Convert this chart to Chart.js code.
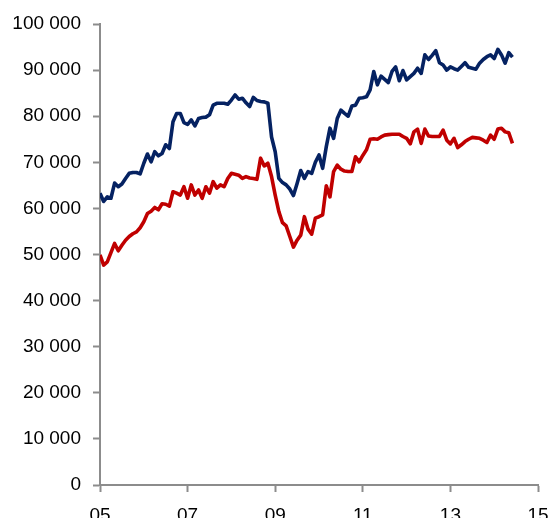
<!DOCTYPE html>
<html>
<head>
<meta charset="utf-8">
<script src="https://cdn.jsdelivr.net/npm/chart.js@4.4.1/dist/chart.umd.min.js"></script>
<style>
    html, body { margin: 0; padding: 0; background: #fff; }
    #wrap { width: 551px; height: 518px; }
</style>
</head>
<body>
<div id="wrap"><canvas id="chart" width="551" height="518"></canvas></div>
<script>
// monthly series, Jan 2005 onwards
const blueSeries = [
    63300, 61500, 62500, 62200, 65500, 64700, 65300, 66500, 67600, 67800,
    67800, 67500, 69800, 71800, 70100, 72300, 71400, 71900, 73800, 73000,
    78800, 80600, 80600, 78600, 78200, 79200, 77900, 79500, 79700, 79800,
    80300, 82400, 82800, 82800, 82800, 82600, 83500, 84600, 83700, 83900,
    82900, 82100, 84100, 83400, 83200, 83100, 82800, 75500, 72300, 66500,
    65600, 65100, 64200, 62800, 65400, 68200, 66500, 68000, 67600, 70000,
    71600, 68700, 73400, 77400, 75200, 79500, 81300, 80600, 80000, 82200,
    82400, 83900, 84000, 84200, 85700, 89700, 86800, 88700, 88000, 87300,
    89700, 90700, 87700, 89900, 87900, 88600, 89300, 90400, 89300, 93300,
    92300, 93200, 94200, 91600, 91100, 90000, 90700, 90300, 90000, 90800,
    91600, 90600, 90400, 90200, 91500, 92300, 92900, 93300, 92500, 94500,
    93300, 91500, 93800, 92800
];

const redSeries = [
    49900, 47700, 48400, 50400, 52400, 50800, 52000, 53100, 53900, 54500,
    54900, 55800, 57100, 58900, 59400, 60200, 59700, 61000, 60900, 60500,
    63600, 63300, 62900, 64700, 62200, 65100, 62900, 64000, 62200, 64700,
    63300, 65800, 64400, 65100, 64700, 66500, 67600, 67400, 67200, 66500,
    66900, 66600, 66500, 66300, 70900, 69200, 69800, 66900, 62900, 59300,
    56900, 56200, 53900, 51600, 53100, 54200, 58200, 55500, 54400, 57900,
    58200, 58600, 64900, 62500, 68000, 69400, 68500, 68100, 68000, 68000,
    71200, 70100, 71500, 72700, 75000, 75100, 75000, 75500, 75900, 76000,
    76100, 76100, 76100, 75600, 75200, 74000, 76600, 77200, 74100, 77200,
    75700, 75600, 75600, 75600, 77000, 74800, 74000, 75200, 73200, 73800,
    74500, 75000, 75400, 75300, 75200, 74800, 74300, 75900, 75000, 77200,
    77400, 76600, 76400, 74100
];

const yearTicks = [0, 24, 48, 72, 96, 120];
const yearLabels = ['05', '07', '09', '11', '13', '15'];

const toPoints = (values) => values.map((v, i) => ({ x: i, y: v }));

const formatThousands = (value) =>
    String(value).replace(/\B(?=(\d{3})+(?!\d))/g, ' ');

const AXIS_GREY = '#8c8c8c';
const labelFont = { family: "'Liberation Sans', Arial, sans-serif", size: 19 };

new Chart(document.getElementById('chart').getContext('2d'), {
    type: 'line',
    data: {
        datasets: [
            {
                data: toPoints(blueSeries),
                borderColor: '#052262',
                borderWidth: 3.6,
                pointRadius: 0,
                tension: 0,
                borderJoinStyle: 'round'
            },
            {
                data: toPoints(redSeries),
                borderColor: '#c00000',
                borderWidth: 3.6,
                pointRadius: 0,
                tension: 0,
                borderJoinStyle: 'round'
            }
        ]
    },
    options: {
        responsive: false,
        animation: false,
        events: [],
        layout: { padding: { top: 24, right: 13, left: 0, bottom: 0 } },
        plugins: {
            legend: { display: false },
            tooltip: { enabled: false }
        },
        scales: {
            x: {
                type: 'linear',
                min: 0,
                max: 120,
                afterBuildTicks: (scale) => {
                    scale.ticks = yearTicks.map(v => ({ value: v }));
                },
                afterFit: (scale) => {
                    scale.height = 33;
                    scale.paddingLeft = 0;
                    scale.paddingRight = 0;
                },
                border: { color: AXIS_GREY, width: 2 },
                grid: {
                    drawOnChartArea: false,
                    drawTicks: true,
                    tickLength: 7,
                    tickWidth: 2,
                    tickColor: AXIS_GREY
                },
                ticks: {
                    color: '#000',
                    font: labelFont,
                    padding: 12,
                    maxRotation: 0,
                    autoSkip: false,
                    callback: (value) => yearLabels[yearTicks.indexOf(value)] ?? ''
                }
            },
            y: {
                min: 0,
                max: 100000,
                afterFit: (scale) => { scale.width = 100; },
                border: { color: AXIS_GREY, width: 2 },
                grid: {
                    drawOnChartArea: false,
                    drawTicks: true,
                    tickLength: 7,
                    tickWidth: 2,
                    tickColor: AXIS_GREY
                },
                ticks: {
                    stepSize: 10000,
                    color: '#000',
                    font: labelFont,
                    padding: 12,
                    callback: (value) => formatThousands(value)
                }
            }
        }
    }
});
</script>
</body>
</html>
